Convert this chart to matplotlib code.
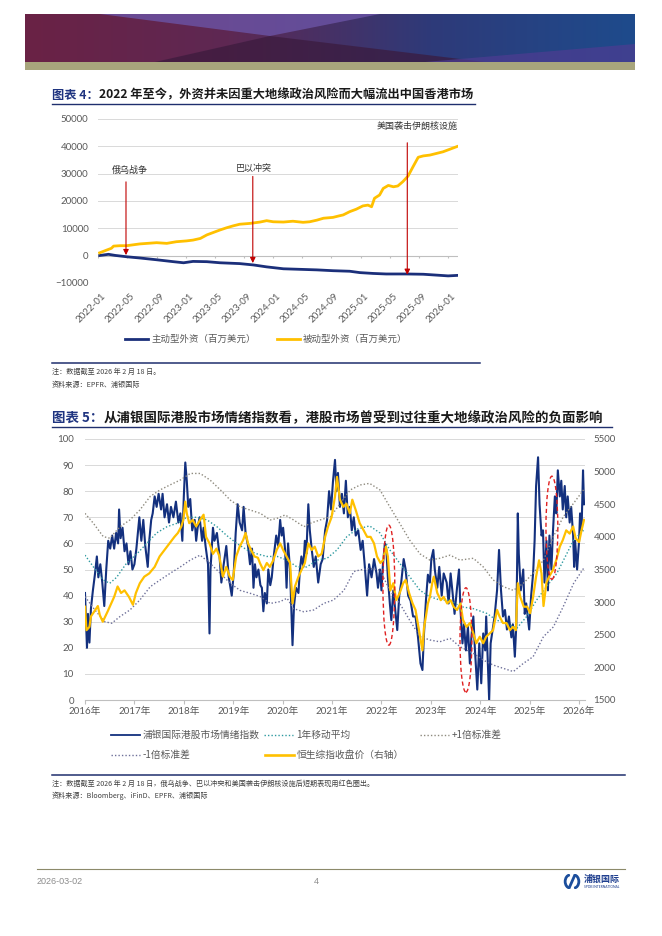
import matplotlib
matplotlib.use('Agg')
import matplotlib.pyplot as plt
import matplotlib.transforms as mtransforms
from matplotlib.colors import LinearSegmentedColormap
from matplotlib.lines import Line2D
from matplotlib.patches import Ellipse, Polygon, Rectangle, Arc
import numpy as np

W, H = 662, 936
plt.rcParams['font.family'] = ['Lato', 'Noto Sans CJK SC', 'DejaVu Sans']
CJK = ['Noto Sans CJK SC', 'DejaVu Sans']

NAVY = '#1F2F6E'
TXT = '#595959'
GRID = '#D9D9D9'
BLUE = '#13307E'
GOLD = '#FFC000'

# ---------------- 图表4 数据（百万美元，x = 自 2022-01 起的月数） ----------------
passive_m = [0, 1.1, 1.8, 2.1, 3.0, 3.9, 5.7, 8.0, 9.4, 10.7, 12.1, 13.0, 14.0, 14.9, 15.8,
             16.7, 17.6, 18.5, 19.4, 20.8, 22.2, 23.1, 24.0, 25.4, 26.7, 28.1, 29.0, 30.0,
             30.9, 32.2, 33.1, 33.6, 34.5, 35.4, 36.3, 37.0, 37.5, 37.9, 38.6, 39.1, 39.8,
             40.5, 41.1, 41.8, 42.5, 43.2, 43.9, 44.6, 45.5, 46.4, 47.3, 48.2, 49.4]
passive_v = [850, 2000, 2700, 3500, 3650, 3650, 4300, 4750, 4500, 5100, 5400, 5700, 6300,
             7600, 8500, 9400, 10200, 10900, 11500, 11800, 12300, 12800, 12400, 12300, 12600,
             12200, 12400, 13000, 13700, 14000, 14600, 14900, 16100, 17000, 18200, 18500,
             17900, 21000, 22200, 24600, 25700, 25200, 25500, 27100, 29100, 32600, 36000,
             36500, 36800, 37400, 38000, 38900, 40100]
active_m = [0, 1.4, 2.3, 3.9, 5.7, 8.0, 10.3, 11.7, 13.0, 14.9, 16.7, 19.4, 21.3, 23.1, 25.4,
            27.7, 30.0, 32.2, 34.5, 35.9, 37.7, 39.5, 42.3, 44.6, 46.9, 48.0, 49.4]
active_v = [0, 500, 100, -400, -850, -1500, -2200, -2600, -2100, -2200, -2600, -2900, -3400,
            -4100, -4800, -5000, -5200, -5500, -5700, -6200, -6500, -6700, -6700, -6800,
            -7200, -7400, -7200]
month_ticks = list(range(0, 49, 4))
month_labels = ['2022-01', '2022-05', '2022-09', '2023-01', '2023-05', '2023-09', '2024-01',
                '2024-05', '2024-09', '2025-01', '2025-05', '2025-09', '2026-01']
event_names = ['俄乌战争', '巴以冲突', '美国袭击伊朗核设施']
event_m = [3.8, 21.2, 42.4]
event_from = [27000, 29000, 41300]
event_to = [200, -2700, -7000]
event_text_m = [4.3, 21.3, 43.8]
event_text_v = [31100, 32000, 47400]

# ---------------- 图表5 数据（x = 年份） ----------------
sentiment = [
    (2016.00, 41), (2016.02, 30), (2016.04, 20), (2016.06, 33), (2016.09, 22), (2016.12, 35),
    (2016.16, 42), (2016.20, 48), (2016.24, 55), (2016.27, 47), (2016.31, 52), (2016.35, 45),
    (2016.39, 36), (2016.43, 50), (2016.47, 61), (2016.51, 58), (2016.55, 63), (2016.59, 58),
    (2016.63, 64), (2016.67, 60), (2016.69, 73), (2016.72, 62), (2016.76, 66), (2016.80, 57),
    (2016.84, 60), (2016.88, 52), (2016.92, 57), (2016.96, 50),
    (2017.00, 52), (2017.04, 58), (2017.07, 64), (2017.10, 70), (2017.14, 61), (2017.18, 69),
    (2017.22, 59), (2017.27, 51), (2017.30, 61), (2017.34, 69), (2017.37, 71.5), (2017.41, 78),
    (2017.45, 74), (2017.49, 79), (2017.54, 73), (2017.57, 79), (2017.61, 70), (2017.66, 75),
    (2017.70, 68), (2017.74, 74), (2017.79, 70), (2017.84, 76), (2017.89, 68), (2017.93, 71.5),
    (2017.97, 61),
    (2018.00, 78), (2018.03, 91), (2018.06, 84), (2018.09, 74), (2018.13, 77), (2018.17, 65),
    (2018.22, 69), (2018.25, 61), (2018.28, 66), (2018.32, 70), (2018.37, 61), (2018.40, 66),
    (2018.44, 59), (2018.49, 52), (2018.52, 25.5), (2018.54, 50), (2018.59, 66), (2018.62, 61),
    (2018.67, 64), (2018.72, 56), (2018.76, 45), (2018.80, 51), (2018.86, 59), (2018.91, 47),
    (2018.97, 40),
    (2019.01, 48.5), (2019.05, 64), (2019.09, 75), (2019.13, 68), (2019.18, 65), (2019.21, 74),
    (2019.25, 64), (2019.30, 59), (2019.34, 52), (2019.38, 58), (2019.41, 43), (2019.44, 52),
    (2019.47, 47), (2019.51, 50), (2019.55, 44), (2019.58, 43), (2019.61, 34), (2019.64, 41),
    (2019.68, 37), (2019.71, 50), (2019.75, 44), (2019.78, 47), (2019.82, 55), (2019.87, 63),
    (2019.91, 59), (2019.95, 69), (2019.98, 63),
    (2020.01, 66), (2020.05, 57.5), (2020.08, 43), (2020.11, 60), (2020.15, 50), (2020.20, 21),
    (2020.23, 36), (2020.27, 43), (2020.32, 41), (2020.35, 50), (2020.38, 55), (2020.42, 51),
    (2020.45, 61), (2020.48, 56), (2020.52, 75), (2020.55, 65), (2020.59, 57.5), (2020.63, 51),
    (2020.67, 55), (2020.72, 45), (2020.77, 52), (2020.81, 54), (2020.86, 65), (2020.90, 69),
    (2020.94, 80), (2020.98, 73),
    (2021.02, 84), (2021.06, 92), (2021.09, 80), (2021.12, 87), (2021.16, 74), (2021.20, 79),
    (2021.24, 71.5), (2021.28, 84), (2021.32, 70), (2021.36, 74), (2021.40, 65), (2021.44, 70),
    (2021.48, 63), (2021.53, 65), (2021.58, 57.5), (2021.62, 61), (2021.66, 52), (2021.71, 40),
    (2021.75, 52), (2021.80, 47), (2021.85, 54), (2021.90, 48.5), (2021.93, 43), (2021.97, 50),
    (2022.00, 42), (2022.03, 52), (2022.07, 60), (2022.10, 57.5), (2022.13, 47), (2022.17, 37),
    (2022.20, 30.6), (2022.24, 42), (2022.28, 34.5), (2022.32, 26.8), (2022.36, 40), (2022.40, 45),
    (2022.45, 54), (2022.49, 50), (2022.54, 40), (2022.59, 38), (2022.64, 32), (2022.69, 32),
    (2022.74, 24), (2022.79, 14), (2022.83, 11.5), (2022.86, 25), (2022.90, 38), (2022.94, 48),
    (2022.98, 45),
    (2023.01, 54), (2023.05, 57.5), (2023.08, 50), (2023.13, 43), (2023.17, 51), (2023.22, 40),
    (2023.26, 48.5), (2023.32, 45), (2023.36, 37), (2023.40, 48.5), (2023.44, 41), (2023.48, 33),
    (2023.53, 43), (2023.57, 50), (2023.60, 34.5), (2023.64, 21.7), (2023.67, 29), (2023.71, 19),
    (2023.75, 28), (2023.79, 14), (2023.82, 24), (2023.86, 32), (2023.89, 20), (2023.94, 4),
    (2023.98, 21.7),
    (2024.02, 6.4), (2024.06, 25.5), (2024.10, 19), (2024.12, 32), (2024.18, 0), (2024.21, 21.7),
    (2024.25, 27), (2024.29, 32), (2024.34, 42), (2024.38, 57.5), (2024.42, 42), (2024.46, 32),
    (2024.50, 34.5), (2024.54, 27), (2024.58, 32), (2024.63, 24), (2024.66, 29), (2024.70, 16.6),
    (2024.73, 29), (2024.76, 71.5), (2024.78, 56), (2024.82, 42), (2024.87, 50), (2024.90, 33),
    (2024.93, 37), (2024.99, 27),
    (2025.03, 40), (2025.07, 48.5), (2025.10, 61), (2025.13, 82), (2025.17, 93), (2025.20, 75),
    (2025.24, 63), (2025.27, 65), (2025.30, 45), (2025.34, 61), (2025.37, 42), (2025.40, 63),
    (2025.44, 50), (2025.47, 64), (2025.51, 78), (2025.54, 71.5), (2025.57, 88), (2025.61, 78),
    (2025.64, 84), (2025.67, 73), (2025.71, 82), (2025.74, 70), (2025.77, 78), (2025.81, 68),
    (2025.84, 74), (2025.88, 63), (2025.90, 51), (2025.92, 61), (2025.96, 50),
    (2026.00, 61), (2026.02, 71.5), (2026.05, 65), (2026.08, 88), (2026.10, 75),
]
moving_avg = [
    (2016.00, 55.5), (2016.17, 51), (2016.37, 46), (2016.50, 44.7), (2016.64, 47), (2016.84, 52.4),
    (2017.05, 56), (2017.25, 60), (2017.45, 64), (2017.66, 66.4), (2017.86, 67.7), (2018.06, 70),
    (2018.26, 70), (2018.47, 69), (2018.67, 66.4), (2018.87, 63), (2019.07, 60), (2019.28, 57.5),
    (2019.48, 56), (2019.68, 55), (2019.89, 55), (2020.09, 53.6), (2020.29, 51), (2020.49, 51),
    (2020.70, 53.6), (2020.90, 54.3), (2021.10, 57.5), (2021.30, 62.6), (2021.51, 65.5),
    (2021.76, 66.7), (2021.97, 64), (2022.17, 57.5), (2022.37, 52.4), (2022.57, 47.3),
    (2022.78, 42), (2022.98, 39.6), (2023.18, 38.3), (2023.39, 38.3), (2023.59, 35.8),
    (2023.86, 35), (2024.13, 33.2), (2024.33, 30.6), (2024.53, 29.4), (2024.74, 27.5),
    (2024.94, 32), (2025.14, 38.3), (2025.34, 43.4), (2025.55, 48.5), (2025.75, 56),
    (2025.89, 61.3), (2026.09, 65),
]
upper_band = [
    (2016.00, 71.5), (2016.17, 67.7), (2016.37, 62.6), (2016.50, 62), (2016.71, 66.4), (2016.91, 69),
    (2017.11, 72.8), (2017.32, 78), (2017.52, 80.5), (2017.72, 82.4), (2017.93, 84.3), (2018.13, 86.8),
    (2018.33, 86.8), (2018.53, 84.3), (2018.74, 80.5), (2018.94, 76.6), (2019.14, 74), (2019.34, 72.8),
    (2019.55, 71.5), (2019.75, 69), (2019.89, 69.6), (2020.05, 70.9), (2020.22, 69), (2020.43, 66.4),
    (2020.56, 67.7), (2020.76, 69), (2020.97, 70.2), (2021.17, 75.4), (2021.37, 80.5), (2021.57, 82.4),
    (2021.76, 83), (2021.97, 80.5), (2022.17, 74), (2022.37, 67.7), (2022.57, 61.3), (2022.78, 56),
    (2022.98, 53.6), (2023.18, 54.3), (2023.39, 55.5), (2023.59, 53.6), (2023.86, 54.3), (2024.06, 51),
    (2024.26, 46), (2024.47, 43.4), (2024.67, 42), (2024.87, 44.7), (2025.07, 48.5), (2025.28, 53.6),
    (2025.48, 62.6), (2025.68, 70.2), (2025.89, 75.4), (2026.09, 80.5),
]
lower_band = [
    (2016.00, 39.6), (2016.20, 34.5), (2016.40, 30), (2016.54, 29.4), (2016.71, 32), (2016.91, 34.5),
    (2017.11, 38.3), (2017.32, 43.4), (2017.52, 46), (2017.72, 48.5), (2017.93, 51), (2018.13, 53.6),
    (2018.33, 55.5), (2018.53, 52.4), (2018.74, 48.5), (2018.94, 44.7), (2019.14, 42), (2019.34, 40.9),
    (2019.55, 39.6), (2019.75, 37), (2019.95, 37.7), (2020.09, 39), (2020.22, 35), (2020.43, 33.8),
    (2020.63, 34.5), (2020.83, 37), (2021.03, 38.3), (2021.24, 42), (2021.44, 49.2), (2021.56, 49.8),
    (2021.76, 50.4), (2021.97, 49.8), (2022.17, 42), (2022.37, 37), (2022.57, 30.6), (2022.78, 24.3),
    (2022.98, 23), (2023.18, 22.3), (2023.39, 23.6), (2023.59, 20.4), (2023.86, 17.9), (2024.06, 15.3),
    (2024.26, 13.4), (2024.47, 12.1), (2024.67, 10.9), (2024.87, 14), (2025.07, 16.6), (2025.28, 24.3),
    (2025.48, 28), (2025.68, 35.8), (2025.89, 44.7), (2026.09, 50.4),
]
hsci = [
    (2016.00, 2930), (2016.03, 2570), (2016.09, 2620), (2016.12, 2780), (2016.19, 2860), (2016.26, 2940),
    (2016.30, 2800), (2016.36, 2700), (2016.41, 2780), (2016.46, 2860), (2016.53, 2980), (2016.59, 3080),
    (2016.66, 3240), (2016.73, 3140), (2016.80, 3180), (2016.89, 3080), (2016.97, 2960),
    (2017.03, 3140), (2017.11, 3290), (2017.20, 3390), (2017.30, 3440), (2017.41, 3540), (2017.51, 3700),
    (2017.61, 3800), (2017.71, 3900), (2017.81, 4000), (2017.88, 4060), (2017.95, 4160), (2017.99, 4260),
    (2018.03, 4540), (2018.06, 4360), (2018.11, 4210), (2018.18, 4260), (2018.25, 4160), (2018.33, 4260),
    (2018.40, 4340), (2018.45, 4000), (2018.52, 3900), (2018.59, 3740), (2018.66, 3820), (2018.72, 3700),
    (2018.79, 3390), (2018.86, 3540), (2018.93, 3390), (2018.99, 3340),
    (2019.06, 3700), (2019.13, 3850), (2019.20, 3950), (2019.25, 4060), (2019.30, 3900), (2019.36, 3800),
    (2019.43, 3700), (2019.50, 3680), (2019.54, 3600), (2019.61, 3490), (2019.68, 3600), (2019.74, 3540),
    (2019.81, 3640), (2019.88, 3800), (2019.95, 3900),
    (2020.01, 3800), (2020.08, 3700), (2020.15, 3600), (2020.20, 2980), (2020.25, 3240), (2020.32, 3390),
    (2020.38, 3490), (2020.45, 3600), (2020.52, 3900), (2020.59, 3800), (2020.65, 3850), (2020.72, 3700),
    (2020.79, 3740), (2020.86, 4000), (2020.92, 4160), (2020.99, 4300),
    (2021.06, 4620), (2021.10, 4920), (2021.16, 4570), (2021.23, 4460), (2021.29, 4510), (2021.36, 4360),
    (2021.41, 4570), (2021.48, 4410), (2021.56, 4210), (2021.64, 4100), (2021.71, 4000), (2021.78, 4000),
    (2021.85, 3900), (2021.91, 3700), (2021.98, 3600),
    (2022.03, 3640), (2022.09, 3850), (2022.13, 3700), (2022.18, 3180), (2022.24, 3290), (2022.30, 3030),
    (2022.37, 3140), (2022.44, 3290), (2022.49, 3340), (2022.56, 3140), (2022.63, 2980), (2022.69, 2880),
    (2022.76, 2570), (2022.83, 2260), (2022.86, 2600), (2022.90, 2780), (2022.94, 2980), (2022.98, 3080),
    (2023.03, 3300), (2023.06, 3390), (2023.13, 3140), (2023.20, 3030), (2023.26, 3080), (2023.33, 2980),
    (2023.40, 3030), (2023.46, 2930), (2023.53, 2880), (2023.60, 2980), (2023.65, 2730), (2023.72, 2620),
    (2023.79, 2680), (2023.86, 2520), (2023.92, 2370), (2023.99, 2470),
    (2024.06, 2370), (2024.12, 2470), (2024.19, 2520), (2024.26, 2570), (2024.34, 2880), (2024.39, 2780),
    (2024.46, 2680), (2024.53, 2680), (2024.60, 2570), (2024.66, 2620), (2024.72, 2570), (2024.76, 3290),
    (2024.81, 3080), (2024.88, 2930), (2024.95, 2930),
    (2025.01, 2830), (2025.07, 3080), (2025.13, 3390), (2025.19, 3640), (2025.24, 3440), (2025.28, 2940),
    (2025.34, 3300), (2025.40, 3400), (2025.47, 3490), (2025.54, 3650), (2025.61, 3850), (2025.67, 3950),
    (2025.74, 4100), (2025.81, 4050), (2025.88, 4160), (2025.93, 3980),
    (2026.00, 3920), (2026.05, 4100), (2026.10, 4260),
]
years = list(range(2016, 2027))
# 红圈：事件日期、圈中心（左轴）、圈高度
circle_t = [2022.15, 2023.71, 2025.45]
circle_mid = [44, 23, 66]
circle_h = [46, 40, 39.5]


def fx(x):
    return x / W


def fy(y):
    return 1 - y / H


fig = plt.figure(figsize=(W / 100, H / 100), dpi=100)
renderer = fig.canvas.get_renderer()

# ---------------- 页眉色带 ----------------
axb = fig.add_axes([fx(25), fy(70), 610 / W, 56 / H])
band_cmap = LinearSegmentedColormap.from_list('band', ['#6A2245', '#5E2853', '#2E3A79', '#1E4B8C'])
axb.imshow(np.linspace(0, 1, 256).reshape(1, -1), extent=[0, 610, 8, 56], aspect='auto', cmap=band_cmap)
axb.add_patch(Rectangle((0, 0), 610, 8, color='#A8A57C', lw=0))
axb.add_patch(Polygon([(75, 56), (355, 56), (245, 34)], color='#6B54A6', alpha=0.8, lw=0))
axb.add_patch(Polygon([(130, 8), (245, 34), (460, 8)], color='#3A1A3C', alpha=0.7, lw=0))
axb.add_patch(Polygon([(400, 8), (610, 8), (610, 26)], color='#4E3C92', alpha=0.7, lw=0))
axb.set_xlim(0, 610)
axb.set_ylim(0, 56)
axb.axis('off')


def title(x, y, head, body, size, line_to):
    t1 = fig.text(fx(x), fy(y), head, color='#1F3480', fontsize=size, fontweight='bold',
                  va='center', family=CJK)
    bb = t1.get_window_extent(renderer=renderer)
    fig.text(bb.x1 / W, fy(y), body, color='#1A1A1A', fontsize=size, fontweight='bold',
             va='center', family=CJK)
    fig.add_artist(Line2D([fx(x), fx(line_to)], [fy(y + 9), fy(y + 9)], color=NAVY, lw=1.0))


title(52, 95, '图表 4：', '2022 年至今，外资并未因重大地缘政治风险而大幅流出中国香港市场', 8.8, 475)

# ---------------- 图表4 ----------------
ax1 = fig.add_axes([fx(98.3), fy(283), (458.3 - 98.3) / W, (283 - 119) / H])
ax1.set_xlim(0, 49.4)
ax1.set_ylim(-10000, 50000)
ax1.set_yticks(range(-10000, 50001, 10000))
ax1.grid(axis='y', color=GRID, lw=0.7)
ax1.set_axisbelow(True)
for s in ax1.spines.values():
    s.set_visible(False)
ax1.axhline(0, color='#BFBFBF', lw=0.8, zorder=1)
ax1.vlines(month_ticks, -900, 0, color='#BFBFBF', lw=0.8, zorder=1)
ax1.plot(active_m, active_v, color='#1B2F7A', lw=2.0, solid_capstyle='butt', zorder=3)
ax1.plot(passive_m, passive_v, color=GOLD, lw=2.0, solid_capstyle='butt', zorder=3)
ax1.set_xticks(month_ticks)
ax1.set_xticklabels(month_labels, rotation=45, ha='right', va='top', rotation_mode='anchor')
ax1.tick_params(axis='x', length=0, labelsize=7, labelcolor=TXT, pad=6)
ax1.tick_params(axis='y', length=0, labelsize=7, labelcolor=TXT, pad=7)
shift = mtransforms.ScaledTranslation(3 / 100, 0, fig.dpi_scale_trans)
for lab in ax1.get_xticklabels():
    lab.set_transform(lab.get_transform() + shift)
for name, m, v0, v1, tm, tv in zip(event_names, event_m, event_from, event_to, event_text_m, event_text_v):
    ax1.annotate('', xy=(m, v1), xytext=(m, v0),
                 arrowprops=dict(arrowstyle='-|>', color='#C00000', lw=0.8, mutation_scale=8,
                                 shrinkA=0, shrinkB=0), zorder=5)
    ax1.text(tm, tv, name, ha='center', va='center', fontsize=6.5, color='#333333', family=CJK)

# 图表4 图例
for x0, col, lab in [(125, '#1B2F7A', '主动型外资（百万美元）'), (277, GOLD, '被动型外资（百万美元）')]:
    fig.add_artist(Line2D([fx(x0), fx(x0 + 23)], [fy(339), fy(339)], color=col, lw=2.0))
    fig.text(fx(x0 + 26), fy(339), lab, fontsize=6.8, color=TXT, va='center', family=CJK)

fig.add_artist(Line2D([fx(52), fx(480)], [fy(363), fy(363)], color=NAVY, lw=1.1))
fig.text(fx(52), fy(372), '注：数据截至 2026 年 2 月 18 日。', fontsize=5.1, color='#404040', va='center', family=CJK)
fig.text(fx(52), fy(384.5), '资料来源：EPFR、浦银国际', fontsize=5.1, color='#404040', va='center', family=CJK)

# ---------------- 图表5 ----------------
title(52, 418, '图表 5：', '从浦银国际港股市场情绪指数看，港股市场曾受到过往重大地缘政治风险的负面影响', 9.7, 612)

ax2 = fig.add_axes([fx(85), fy(700), 500 / W, (700 - 439) / H])
ax2.set_xlim(2016, 2026.12)
ax2.set_ylim(0, 100)
ax2.set_yticks(range(0, 101, 10))
ax2.grid(axis='y', color=GRID, lw=0.7)
ax2.set_axisbelow(True)
for s in ['top', 'right', 'left']:
    ax2.spines[s].set_visible(False)
ax2.spines['bottom'].set_color('#BFBFBF')
ax2.spines['bottom'].set_linewidth(0.8)
ax2.set_xticks(years)
ax2.set_xticklabels([f'{y}年' for y in years])
ax2.tick_params(axis='x', length=3, width=0.8, color='#BFBFBF', labelsize=7, labelcolor=TXT, pad=2)
ax2.tick_params(axis='y', length=0, labelsize=7, labelcolor=TXT, pad=8)

st, sv = zip(*sentiment)
ax2.plot(st, sv, color=BLUE, lw=1.5, zorder=3)
mt, mv = zip(*moving_avg)
ax2.plot(mt, mv, color='#2E9AA0', lw=1.0, ls=(0, (1, 1.5)), zorder=4)
ut, uv = zip(*upper_band)
ax2.plot(ut, uv, color='#8E8A7E', lw=1.0, ls=(0, (1, 1.5)), zorder=4)
lt, lv = zip(*lower_band)
ax2.plot(lt, lv, color='#6E7099', lw=1.0, ls=(0, (1, 1.5)), zorder=4)

ax2r = ax2.twinx()
ax2r.set_ylim(1500, 5500)
ax2r.set_yticks(range(1500, 5501, 500))
for s in ax2r.spines.values():
    s.set_visible(False)
ax2r.tick_params(axis='y', length=0, labelsize=7, labelcolor=TXT, pad=6)
ht, hv = zip(*hsci)
ax2r.plot(ht, hv, color=GOLD, lw=1.6, zorder=3)
for t, m, h in zip(circle_t, circle_mid, circle_h):
    ax2r.add_patch(Ellipse((t, m), 0.24, h, transform=ax2.transData, fill=False,
                           edgecolor='#E02020', lw=1.0, ls=(0, (3, 2)), zorder=6))

# 图表5 图例
legend_items = [
    (111, 735, BLUE, '-', 1.3, '浦银国际港股市场情绪指数'),
    (264, 735, '#2E9AA0', ':', 1.0, '1年移动平均'),
    (420, 735, '#8E8A7E', ':', 1.0, '+1倍标准差'),
    (111, 755, '#6E7099', ':', 1.0, '-1倍标准差'),
    (265, 755, GOLD, '-', 1.9, '恒生综指收盘价（右轴）'),
]
for x0, y0, col, ls, lw, lab in legend_items:
    fig.add_artist(Line2D([fx(x0), fx(x0 + 29)], [fy(y0), fy(y0)], color=col, lw=lw,
                          ls=ls if ls == '-' else (0, (1, 1.5))))
    fig.text(fx(x0 + 32), fy(y0), lab, fontsize=7, color=TXT, va='center', family=CJK)

fig.add_artist(Line2D([fx(52), fx(625)], [fy(775), fy(775)], color=NAVY, lw=1.1))
fig.text(fx(52), fy(783.5), '注：数据截至 2026 年 2 月 18 日，俄乌战争、巴以冲突和美国袭击伊朗核设施后短期表现用红色圈出。',
         fontsize=5.1, color='#404040', va='center', family=CJK)
fig.text(fx(52), fy(796), '资料来源：Bloomberg、iFinD、EPFR、浦银国际', fontsize=5.1, color='#404040',
         va='center', family=CJK)

# ---------------- 页脚 ----------------
fig.add_artist(Line2D([fx(37), fx(625)], [fy(869), fy(869)], color='#8C8A6A', lw=0.8))
fig.text(fx(37), fy(881), '2026-03-02', fontsize=6.5, color='#8C8C8C', va='center', family=['Liberation Sans'])
fig.text(fx(316), fy(881), '4', fontsize=6.5, color='#8C8C8C', va='center', ha='center', family=['Liberation Sans'])
axl = fig.add_axes([fx(563), fy(889), 18 / W, 15 / H])
axl.set_xlim(0, 1)
axl.set_ylim(0, 1)
axl.axis('off')
axl.add_patch(Arc((0.42, 0.5), 0.6, 0.9, theta1=95, theta2=265, lw=2.0, color='#1C4E9C'))
axl.add_patch(Arc((0.58, 0.5), 0.6, 0.9, theta1=-85, theta2=85, lw=2.0, color='#1C4E9C'))
axl.plot([0.36, 0.64], [0.12, 0.88], color='#1C4E9C', lw=2.0)
fig.text(fx(584), fy(879), '浦银国际', fontsize=6.5, fontweight='bold', color='#1F3F8F', va='center', family=CJK)
fig.text(fx(584), fy(887), 'SPDB INTERNATIONAL', fontsize=2.4, color='#1F3F8F', va='center')

fig.savefig('out.png', dpi=100)
plt.close(fig)
